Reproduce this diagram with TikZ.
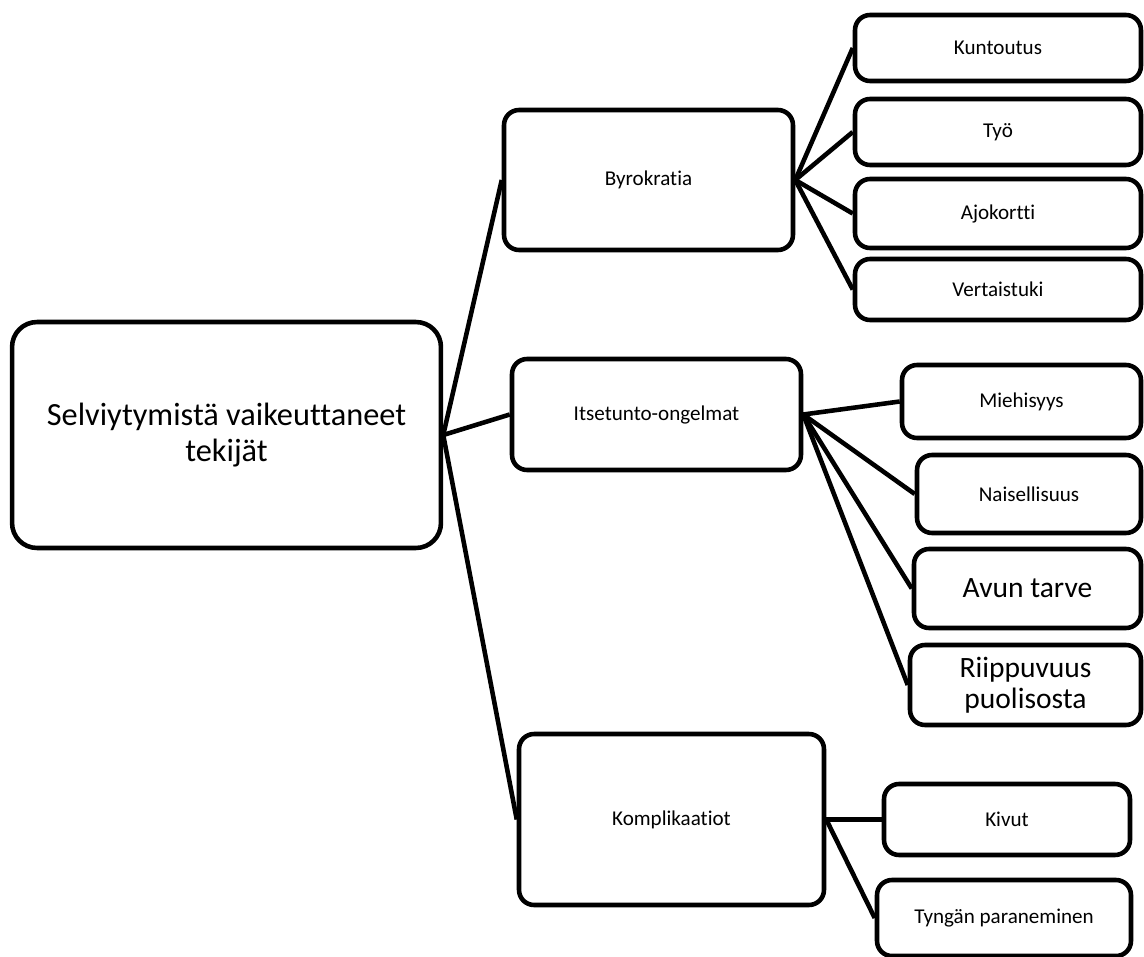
\documentclass[tikz,border=0pt]{standalone}
\usepackage{fontspec}
\setmainfont[Ligatures=NoCommon]{Carlito}
\begin{document}
\begin{tikzpicture}[x=0.02cm, y=-0.02cm, line width=2.6pt]
		% Node styles
		\tikzstyle{block} = [rectangle, draw=black, rounded corners=0.3cm, align=center, inner sep=2pt, font=\fontsize{12}{14}\selectfont]
		\tikzstyle{topblock} = [block, rounded corners=0.5cm, font=\fontsize{18.4}{20}\selectfont]
		\tikzstyle{bigtext} = [font=\fontsize{16.8}{17.5}\selectfont]
		\tikzstyle{link} = [draw=black, line width=2.6pt]
		
		\clip (0,0) rectangle (1144,957);
		
		% Nodes
		\node[topblock, minimum width=8.58cm, minimum height=4.52cm] (tekijat) at (226.5,435) {Selviytymistä vaikeuttaneet\\tekijät};
		
		\node[block, minimum width=5.78cm, minimum height=2.8cm] (byrokratia) at (648.5,180) {Byrokratia};
		\node[block, minimum width=5.78cm, minimum height=2.22cm] (itsetunto) at (656.5,414.5) {Itsetunto-ongelmat};
		\node[block, minimum width=6.1cm, minimum height=3.42cm] (komplikaatiot) at (671.5,819.5) {Komplikaatiot};
		
		\node[block, minimum width=5.72cm, minimum height=1.32cm] (kuntoutus) at (998,48) {Kuntoutus};
		\node[block, minimum width=5.72cm, minimum height=1.32cm] (tyo) at (998,132) {Työ};
		\node[block, minimum width=5.72cm, minimum height=1.38cm] (ajokortti) at (998,213.5) {Ajokortti};
		\node[block, minimum width=5.72cm, minimum height=1.22cm] (vertaistuki) at (998,289.5) {Vertaistuki};
		
		\node[block, minimum width=4.78cm, minimum height=1.46cm] (miehisyys) at (1021.5,401.5) {Miehisyys};
		\node[block, minimum width=4.48cm, minimum height=1.56cm] (naisellisuus) at (1029,494) {Naisellisuus};
		\node[block, bigtext, minimum width=4.54cm, minimum height=1.58cm] (avuntarve) at (1027.5,588.5) {Avun tarve};
		\node[block, bigtext, minimum width=4.62cm, minimum height=1.6cm] (riippuvuus) at (1025.5,685) {Riippuvuus\\puolisosta};
		
		\node[block, minimum width=4.92cm, minimum height=1.42cm] (kivut) at (1007,819.5) {Kivut};
		\node[block, minimum width=5.08cm, minimum height=1.52cm] (tynka) at (1004,918) {Tyngän paraneminen};
		
		% Connectors
		\draw[link] (tekijat.east) -- (byrokratia.west);
		\draw[link] (tekijat.east) -- (itsetunto.west);
		\draw[link] (tekijat.east) -- (komplikaatiot.west);
		
		\draw[link] (byrokratia.east) -- (kuntoutus.west);
		\draw[link] (byrokratia.east) -- (tyo.west);
		\draw[link] (byrokratia.east) -- (ajokortti.west);
		\draw[link] (byrokratia.east) -- (vertaistuki.west);
		
		\draw[link] (itsetunto.east) -- (miehisyys.west);
		\draw[link] (itsetunto.east) -- (naisellisuus.west);
		\draw[link] (itsetunto.east) -- (avuntarve.west);
		\draw[link] (itsetunto.east) -- (riippuvuus.west);
		
		\draw[link] (komplikaatiot.east) -- (kivut.west);
		\draw[link] (komplikaatiot.east) -- (tynka.west);
	\end{tikzpicture}
\end{document}
